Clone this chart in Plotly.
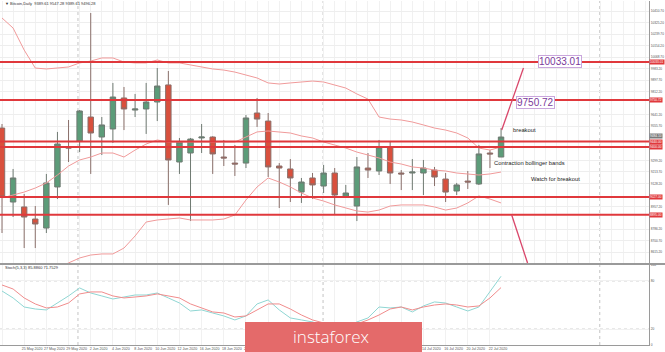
import plotly.graph_objects as go

# ---------------- data ----------------
dates = ["21 May 2020", "22 May 2020", "25 May 2020", "26 May 2020", "27 May 2020", "28 May 2020", "29 May 2020",
         "1 Jun 2020", "2 Jun 2020", "3 Jun 2020", "4 Jun 2020", "5 Jun 2020", "8 Jun 2020", "9 Jun 2020",
         "10 Jun 2020", "11 Jun 2020", "12 Jun 2020", "15 Jun 2020", "16 Jun 2020", "17 Jun 2020", "18 Jun 2020",
         "19 Jun 2020", "22 Jun 2020", "23 Jun 2020", "24 Jun 2020", "25 Jun 2020", "26 Jun 2020", "29 Jun 2020",
         "30 Jun 2020", "1 Jul 2020", "2 Jul 2020", "3 Jul 2020", "6 Jul 2020", "7 Jul 2020", "8 Jul 2020",
         "9 Jul 2020", "10 Jul 2020", "13 Jul 2020", "14 Jul 2020", "15 Jul 2020", "16 Jul 2020", "17 Jul 2020",
         "20 Jul 2020", "21 Jul 2020", "22 Jul 2020", "23 Jul 2020"]

open_ = [9541, 8990, 8953, 8863, 8796, 9102, 9400, 9444, 9623, 9474, 9534, 9765, 9675, 9683, 9735, 9862,
         9288, 9355, 9467, 9474, 9325, 9280, 9280, 9653, 9593, 9258, 9236, 9064, 9169, 9109, 9206, 9027,
         8960, 9243, 9221, 9400, 9206, 9206, 9206, 9228, 9161, 9072, 9146, 9124, 9355, 9325]
high = [9571, 9236, 9050, 8960, 9199, 9512, 9601, 9675, 10398, 9623, 9877, 9847, 9795, 9877, 9988, 9966,
        9467, 9467, 9571, 9480, 9452, 9415, 9638, 9765, 9653, 9280, 9310, 9169, 9206, 9266, 9243, 9117,
        9325, 9355, 9452, 9444, 9228, 9310, 9303, 9251, 9206, 9132, 9221, 9415, 9377, 9541]
low = [8759, 8878, 8647, 8647, 8759, 9012, 9288, 9362, 9199, 9340, 9430, 9526, 9623, 9497, 9593, 8968,
       9199, 8848, 9355, 9199, 9258, 9184, 9243, 9549, 9176, 8945, 8990, 8983, 9012, 9057, 8893, 9020,
       8848, 9169, 9191, 9124, 9079, 9079, 9042, 9109, 8990, 9042, 9087, 9117, 9243, 9325]
close = [9027, 9169, 8878, 8826, 9132, 9422, 9392, 9668, 9504, 9564, 9772, 9683, 9683, 9735, 9854, 9303,
         9437, 9459, 9474, 9348, 9318, 9273, 9616, 9608, 9251, 9243, 9169, 9139, 9117, 9206, 9042, 9057,
         9251, 9228, 9400, 9206, 9199, 9213, 9243, 9176, 9064, 9117, 9139, 9348, 9348, 9474]

bb_upper = [10361, 10286, 10122, 9988, 9981, 9988, 9996, 10026, 10040, 10063, 10063, 10033, 10026, 10026,
            10048, 10026, 10026, 10011, 9996, 9981, 9973, 9958, 9936, 9914, 9877, 9869, 9877, 9884, 9891,
            9884, 9862, 9839, 9795, 9757, 9623, 9608, 9601, 9586, 9564, 9541, 9526, 9504, 9467, 9392, 9377, 9400]
bb_middle = [9020, 9042, 9064, 9094, 9132, 9191, 9258, 9303, 9325, 9355, 9355, 9325, 9377, 9422, 9452,
             9437, 9437, 9437, 9437, 9437, 9437, 9437, 9474, 9512, 9519, 9512, 9504, 9482, 9467, 9437,
             9415, 9392, 9362, 9340, 9318, 9288, 9273, 9251, 9243, 9228, 9221, 9206, 9199, 9191, 9199, 9213]
bb_lower = [8334, 8372, 8409, 8439, 8469, 8498, 8536, 8573, 8595, 8603, 8603, 8647, 8737, 8841, 8856,
            8863, 8871, 8856, 8856, 8856, 8863, 8893, 9005, 9102, 9169, 9139, 9102, 9057, 9020, 8997,
            8968, 8945, 8923, 8915, 8930, 8960, 8968, 8968, 8968, 8953, 8930, 8945, 8983, 9035, 9012, 8983]

stoch_k = [67.5, 58.8, 47.5, 45, 43.8, 52.5, 61.3, 71.3, 65, 61.3, 57.5, 60, 62.5, 62.5, 65, 58.8, 52.5,
           42.5, 43.8, 40, 36.3, 31.3, 36.3, 51.3, 56.3, 43.8, 33.8, 31.3, 28.8, 23.8, 21.3, 22.5, 28.8,
           33.8, 47.5, 46.3, 47.5, 41.3, 48.8, 53.8, 52.5, 47.5, 42.5, 47.5, 66.3, 85.9]
stoch_d = [75, 70, 58.8, 51.3, 46.3, 47.5, 52.5, 63.8, 66.3, 66.3, 61.3, 58.8, 60, 61.3, 63.8, 61.3, 58.8,
           51.3, 46.3, 41.3, 40, 35, 36.3, 43.8, 51.3, 51.3, 45, 37.5, 31.3, 27.5, 23.8, 22.5, 26.3, 31.3,
           37.5, 45, 47.5, 43.8, 47.5, 50, 51.3, 50, 47.5, 48.8, 58.8, 71.8]

levels = [10033.01, 9750.72, 9440.0, 9400.0, 9027.0, 8895.0]
bid_price = 9484.10
price_ticks = [10410.70, 10325.20, 10239.70, 10154.20, 10068.70, 9983.20, 9897.70, 9812.20, 9726.70,
               9641.20, 9555.70, 9470.20, 9384.70, 9299.20, 9213.70, 9128.20, 9042.70, 8957.20, 8871.70,
               8786.20, 8700.70, 8615.20]
stoch_levels = [80, 20]
stoch_ticks = [0, 20, 80, 100]

idx = list(range(len(dates)))

# ---------------- layout geometry ----------------
W, H = 665, 352
ML, MR, MT, MB = 0, 16, 1, 7
PW, PH = W - ML - MR, H - MT - MB


def px_x(p):
    return (p - ML) / PW


def px_y(p):
    return (H - MB - p) / PH


main_dom = [px_y(263.5), 1.0]
ind_dom = [0.0, px_y(264.5)]
x_range = [-0.18, 58.34]
y_range = [8531.8, 10487.45]
y2_range = [0, 100.6]

# hide axis labels that sit under the coloured price labels
label_prices = levels + [bid_price]
shown_ticks = [t for t in price_ticks if min(abs(t - p) for p in label_prices) > 33]

GREEN = "#5c9c79"
RED = "#d9503d"
LINE_RED = "#e0383c"
BB = "#f09a9a"

fig = go.Figure()

fig.add_trace(go.Scatter(x=idx, y=bb_upper, mode="lines", line=dict(color=BB, width=1), hoverinfo="skip"))
fig.add_trace(go.Scatter(x=idx, y=bb_middle, mode="lines", line=dict(color=BB, width=1), hoverinfo="skip"))
fig.add_trace(go.Scatter(x=idx, y=bb_lower, mode="lines", line=dict(color=BB, width=1), hoverinfo="skip"))

fig.add_trace(go.Candlestick(
    x=idx, open=open_, high=high, low=low, close=close,
    increasing=dict(fillcolor=GREEN, line=dict(color="#6f7a72", width=1)),
    decreasing=dict(fillcolor=RED, line=dict(color="#8a6f6a", width=1)),
    whiskerwidth=0, hoverinfo="skip"))

fig.add_trace(go.Scatter(x=idx, y=stoch_k, mode="lines", xaxis="x2", yaxis="y2",
                         line=dict(color="#8fd6d3", width=1), hoverinfo="skip"))
fig.add_trace(go.Scatter(x=idx, y=stoch_d, mode="lines", xaxis="x2", yaxis="y2",
                         line=dict(color="#f08c8c", width=1), hoverinfo="skip"))

shapes = []
for xv in [6.85, 28.95, 53.9]:
    shapes.append(dict(type="line", xref="x", yref="paper", x0=xv, x1=xv, y0=0, y1=1,
                       line=dict(color="#c4c4c4", width=1, dash="dot"), layer="below"))
for lv in levels:
    shapes.append(dict(type="line", xref="paper", yref="y", x0=0, x1=1, y0=lv, y1=lv,
                       line=dict(color=LINE_RED, width=2)))
for lv in stoch_levels:
    shapes.append(dict(type="line", xref="paper", yref="y2", x0=0, x1=1, y0=lv, y1=lv,
                       line=dict(color="#d0d0d0", width=1, dash="dot"), layer="below"))
shapes.append(dict(type="line", xref="paper", yref="paper", x0=0, x1=W / PW, y0=px_y(264), y1=px_y(264),
                   line=dict(color="#9a9a9a", width=2)))
shapes.append(dict(type="line", xref="x", yref="y", x0=45.06, y0=9526, x1=47.02, y1=9988,
                   line=dict(color="#d9466a", width=1.3)))
shapes.append(dict(type="line", xref="x", yref="y", x0=45.96, y0=8893, x1=47.39, y1=8536,
                   line=dict(color="#d9466a", width=1.3)))
shapes.append(dict(type="rect", xref="paper", yref="paper", x0=px_x(245), x1=px_x(422),
                   y0=px_y(356), y1=px_y(322), fillcolor="#e46a6a", line=dict(width=0), layer="above"))

ann = []
ann.append(dict(xref="paper", yref="paper", x=px_x(3), y=px_y(3.5), xanchor="left", yanchor="middle",
                text="▼ Bitcoin,Daily  9389.61 9547.28 9389.61 9496.28", showarrow=False,
                font=dict(size=4, color="#333333", family="Liberation Sans")))
ann.append(dict(xref="paper", yref="paper", x=px_x(3), y=px_y(267.5), xanchor="left", yanchor="middle",
                text="Stoch(5,3,3) 85.8860 71.7529", showarrow=False,
                font=dict(size=4, color="#333333", family="Liberation Sans")))
for lv in levels:
    ann.append(dict(xref="paper", yref="y", x=1.0, y=lv, xanchor="left", yanchor="middle",
                    text=f"{lv:.2f}", showarrow=False, bgcolor=LINE_RED, borderpad=0,
                    font=dict(size=3.2, color="white", family="Liberation Sans")))
ann.append(dict(xref="paper", yref="y", x=1.0, y=bid_price, xanchor="left", yanchor="middle",
                text=f"{bid_price:.2f}", showarrow=False, bgcolor="#7a7a7a", borderpad=0,
                font=dict(size=3.2, color="white", family="Liberation Sans")))
ann.append(dict(xref="x", yref="y", x=50.3, y=10037, text="10033.01", showarrow=False,
                bgcolor="white", bordercolor="#c9a6dc", borderwidth=1, borderpad=0,
                font=dict(size=10, color="#7a3a9a", family="Liberation Sans")))
ann.append(dict(xref="x", yref="y", x=48.1, y=9731, text="9750.72", showarrow=False,
                bgcolor="white", bordercolor="#c9a6dc", borderwidth=1, borderpad=0,
                font=dict(size=10, color="#7a3a9a", family="Liberation Sans")))
for txt, xv, yv in [("breakout", 47.07, 9523), ("Contraction bollinger bands", 47.6, 9284),
                    ("Watch for breakout", 49.95, 9158)]:
    ann.append(dict(xref="x", yref="y", x=xv, y=yv, text=txt, showarrow=False,
                    font=dict(size=5.8, color="#222222", family="Liberation Sans")))
ann.append(dict(xref="paper", yref="paper", x=px_x(331.5), y=px_y(336), text="instaforex", showarrow=False,
                xanchor="center", yanchor="middle",
                font=dict(size=17, color="white", family="Open Sans", weight=300)))

small = dict(size=3.2, color="#555555", family="Liberation Sans")
fig.update_layout(
    width=W, height=H, margin=dict(l=ML, r=MR, t=MT, b=MB, autoexpand=False),
    paper_bgcolor="white", plot_bgcolor="white", showlegend=False,
    shapes=shapes, annotations=ann,
    xaxis=dict(domain=[0, 1], range=x_range, anchor="y", showticklabels=False, rangeslider=dict(visible=False),
               showgrid=True, gridcolor="#f1f1f1", dtick=1, tick0=0, zeroline=False, automargin=False),
    yaxis=dict(domain=main_dom, range=y_range, side="right", anchor="x", tickmode="array",
               tickvals=shown_ticks, ticktext=[f"{v:.2f}" for v in shown_ticks],
               tickfont=small, ticks="", automargin=False,
               showgrid=True, gridcolor="#eeeeee", zeroline=False, showline=True, linecolor="#9a9a9a",
               linewidth=1, ticklabelstandoff=0),
    xaxis2=dict(domain=[0, 1], range=x_range, anchor="y2", matches="x", tickmode="array",
                tickvals=idx[::2], ticktext=dates[::2], ticklabelshift=8, ticks="", tickangle=0,
                tickfont=dict(size=3.6, color="#555555", family="Liberation Sans"), automargin=False,
                showgrid=True, gridcolor="#f1f1f1", zeroline=False, showline=True, linecolor="#9a9a9a",
                ticklabelstandoff=0),
    yaxis2=dict(domain=ind_dom, range=y2_range, side="right", anchor="x2", tickmode="array",
                tickvals=stoch_ticks, ticktext=[str(v) for v in stoch_ticks], ticks="", automargin=False,
                tickfont=small, showgrid=True, gridcolor="#f1f1f1", zeroline=False, showline=True,
                linecolor="#9a9a9a", ticklabelstandoff=0),
)

fig.write_html("out.html")
